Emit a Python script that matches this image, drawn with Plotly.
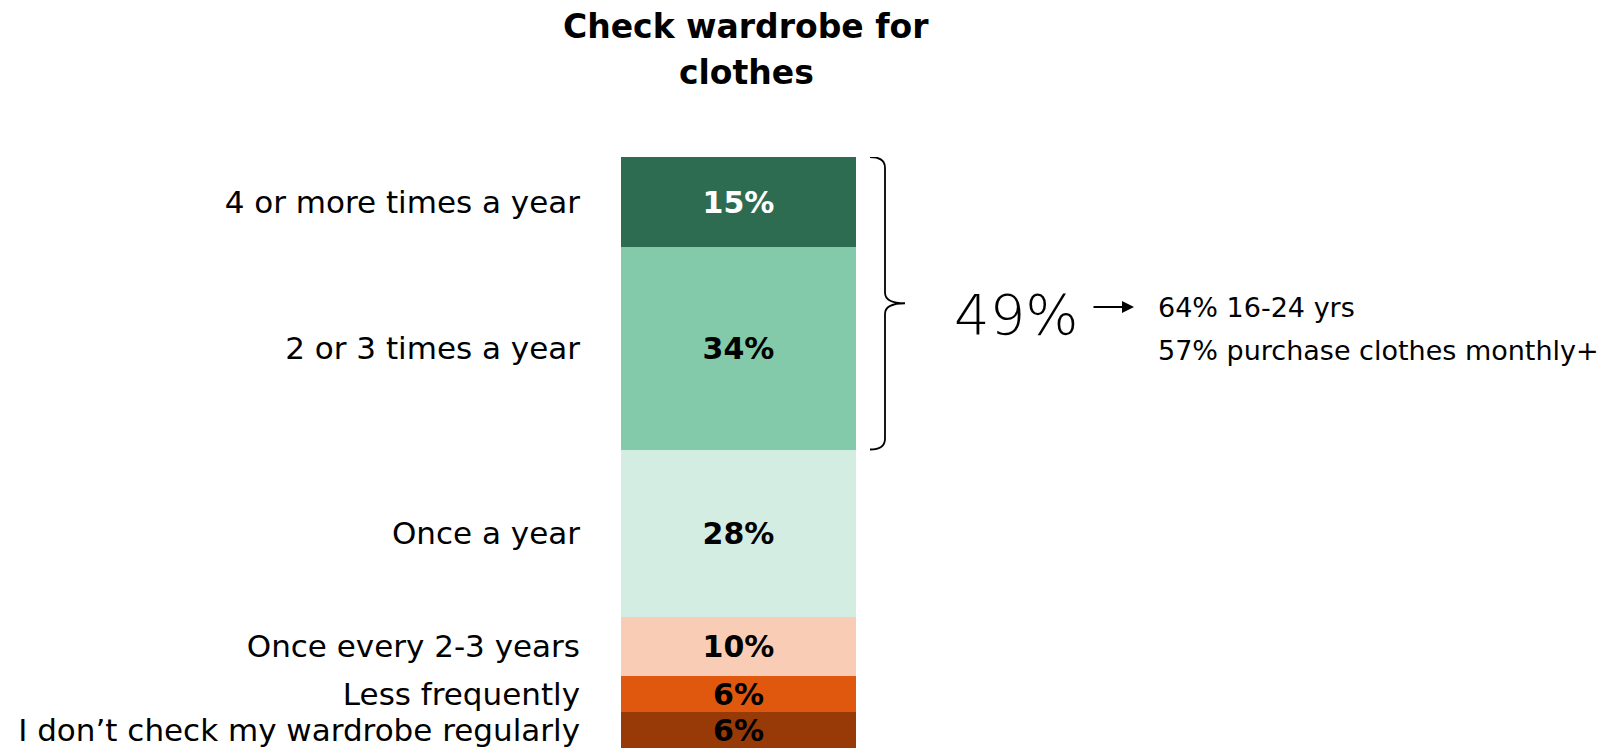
import plotly.graph_objects as go

# Survey answers, listed from the bottom of the stack upwards
categories = [
    "I don’t check my wardrobe regularly",
    "Less frequently",
    "Once every 2-3 years",
    "Once a year",
    "2 or 3 times a year",
    "4 or more times a year",
]
values = [6, 6, 10, 28, 34, 15]
colors = ["#973A08", "#E0580E", "#F9CDB5", "#D4EDE2", "#82CAA9", "#2E6C52"]
label_colors = ["black", "black", "black", "black", "black", "white"]

title_lines = ["Check wardrobe for", "clothes"]
bracket_share = 49
callout_lines = ["64% 16-24 yrs", "57% purchase clothes monthly+"]

FONT = "DejaVu Sans"
W, H = 1606, 755
LEFT, RIGHT, TOP, BOTTOM = 621, 6, 157, 7
BAR_PX = 235  # width of the stacked column in pixels
plot_w = W - LEFT - RIGHT
plot_h = H - TOP - BOTTOM
x_max = plot_w / BAR_PX
total = sum(values)
py_per_unit = plot_h / total


def xpx(px):
    """Convert an absolute pixel column to x data units."""
    return (px - LEFT) / BAR_PX


def ypx(py):
    """Convert an absolute pixel row to y data units."""
    return total - (py - TOP) / py_per_unit


def ypaper(py):
    """Convert an absolute pixel row to paper units."""
    return 1 + (TOP - py) / plot_h


fig = go.Figure()
base = 0
mids = []
for cat, v, c, lc in zip(categories, values, colors, label_colors):
    mids.append(base + v / 2)
    fig.add_trace(go.Bar(
        x=[0.5], y=[v], width=1, name=cat, marker=dict(color=c, line=dict(width=0)),
        text=[f"{v}%"], textposition="inside", insidetextanchor="middle", textangle=0,
        textfont=dict(family=FONT, size=30, color=lc, weight="bold"),
        hoverinfo="skip",
    ))
    base += v

# Curly bracket spanning the two most frequent answers
top_y = total
bot_y = total - (values[-1] + values[-2])
mid_y = (top_y + bot_y) / 2
x0, x1, x2 = xpx(870), xpx(885), xpx(905)
c = 1.8  # curl height in data units
path = (
    f"M {x0},{top_y} Q {x1},{top_y} {x1},{top_y - c} "
    f"L {x1},{mid_y + c} Q {x1},{mid_y} {x2},{mid_y} "
    f"Q {x1},{mid_y} {x1},{mid_y - c} "
    f"L {x1},{bot_y + c} Q {x1},{bot_y} {x0},{bot_y}"
)
fig.add_shape(type="path", path=path, xref="x", yref="y",
              line=dict(color="black", width=1.8))

annotations = [
    dict(text=f"<b>{title_lines[0]}</b>", x=xpx(746), y=ypaper(27), xref="x", yref="paper",
         showarrow=False, font=dict(family=FONT, size=33, color="black"),
         xanchor="center", yanchor="middle"),
    dict(text=f"<b>{title_lines[1]}</b>", x=xpx(746), y=ypaper(72), xref="x", yref="paper",
         showarrow=False, font=dict(family=FONT, size=33, color="black"),
         xanchor="center", yanchor="middle"),
    dict(text=f"{bracket_share}%", x=xpx(1016), y=ypx(314), xref="x", yref="y",
         showarrow=False, font=dict(family=FONT, size=56, color="black", weight=300),
         xanchor="center", yanchor="middle"),
    dict(text="", x=xpx(1134), y=ypx(307), ax=xpx(1092), ay=ypx(307),
         xref="x", yref="y", axref="x", ayref="y", showarrow=True,
         arrowhead=2, arrowsize=1.2, arrowwidth=2, arrowcolor="black"),
    dict(text=callout_lines[0], x=xpx(1156), y=ypx(307), xref="x", yref="y",
         showarrow=False, font=dict(family=FONT, size=27, color="black"),
         xanchor="left", yanchor="middle"),
    dict(text=callout_lines[1], x=xpx(1156), y=ypx(350), xref="x", yref="y",
         showarrow=False, font=dict(family=FONT, size=27, color="black"),
         xanchor="left", yanchor="middle"),
]

fig.update_layout(
    width=W, height=H,
    margin=dict(l=LEFT, r=RIGHT, t=TOP, b=BOTTOM, pad=0),
    barmode="stack", bargap=0, showlegend=False,
    plot_bgcolor="white", paper_bgcolor="white",
    uniformtext=dict(minsize=30, mode="show"),
    annotations=annotations,
    xaxis=dict(range=[0, x_max], visible=False, fixedrange=True),
    yaxis=dict(range=[0, total], tickmode="array", tickvals=mids, ticktext=categories,
               showgrid=False, zeroline=False, showline=False, ticks="",
               ticklabelstandoff=40, tickfont=dict(family=FONT, size=31, color="black"),
               fixedrange=True),
)

fig.write_html("out.html")
